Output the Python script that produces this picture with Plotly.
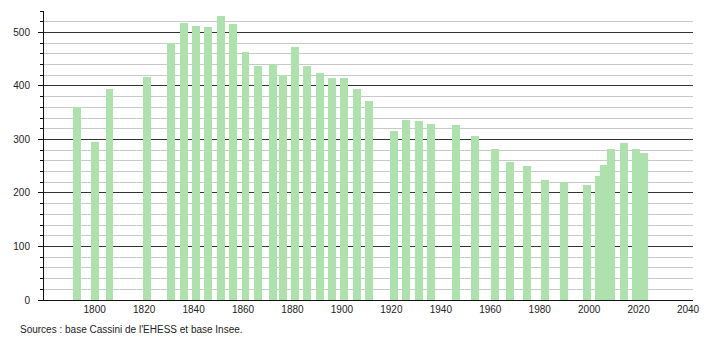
import plotly.graph_objects as go

years = [1793, 1800, 1806, 1821, 1831, 1836, 1841, 1846, 1851, 1856, 1861, 1866,
         1872, 1876, 1881, 1886, 1891, 1896, 1901, 1906, 1911, 1921, 1926, 1931,
         1936, 1946, 1954, 1962, 1968, 1975, 1982, 1990, 1999, 2004, 2006, 2009,
         2014, 2019, 2022]
population = [360, 295, 394, 417, 480, 518, 512, 511, 531, 516, 464, 437,
              441, 420, 472, 437, 424, 415, 414, 394, 372, 316, 336, 335,
              329, 327, 307, 282, 258, 251, 224, 221, 215, 232, 252, 282,
              293, 282, 274]
x_ticks = [1800, 1820, 1840, 1860, 1880, 1900, 1920, 1940, 1960, 1980, 2000, 2020, 2040]
source_text = "Sources : base Cassini de l'EHESS et base Insee."

fig = go.Figure()
fig.add_trace(go.Bar(
    x=years, y=population, width=3.2,
    marker=dict(color="#ade2ad", line=dict(width=0)),
    hoverinfo="x+y",
))

fig.update_layout(
    width=710, height=340,
    margin=dict(l=44, r=10, t=11, b=40),
    paper_bgcolor="white", plot_bgcolor="white",
    showlegend=False,
    font=dict(family="Liberation Sans, Arial, sans-serif", size=10, color="#222"),
    bargap=0,
    xaxis=dict(
        range=[1779.5, 2042], tickvals=x_ticks, ticks="", showgrid=False,
        showline=True, linecolor="#111", linewidth=1, zeroline=False,
        tickfont=dict(size=10, color="#222"),
    ),
    yaxis=dict(
        range=[0, 540], dtick=100, tick0=0, ticks="outside", ticklen=5,
        tickcolor="#111", showline=True, linecolor="#111", linewidth=1,
        showgrid=True, gridcolor="#333", gridwidth=1, zeroline=False,
        tickfont=dict(size=10, color="#222"), ticklabelstandoff=6,
        minor=dict(dtick=20, tick0=0, ticks="outside", ticklen=3, tickcolor="#111",
                   showgrid=True, gridcolor="#c8c8c8", gridwidth=1),
        layer="below traces",
    ),
    annotations=[dict(
        text=source_text, xref="paper", yref="paper", x=-0.04, y=-0.075,
        xanchor="left", yanchor="top", showarrow=False,
        font=dict(size=10, color="#222"),
    )],
)
fig.update_xaxes(layer="above traces")

fig.write_html("out.html")
